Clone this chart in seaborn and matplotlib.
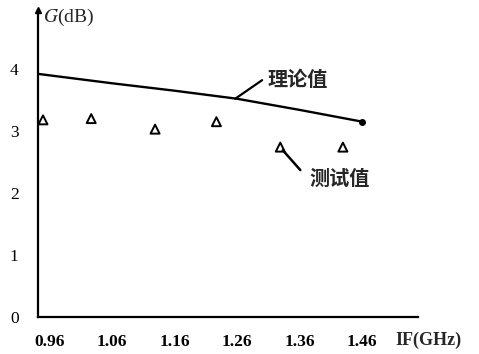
import matplotlib
matplotlib.use("Agg")
import matplotlib.pyplot as plt
import seaborn as sns
import pandas as pd

# theory curve
theory_x = [0.943, 1.06, 1.16, 1.26, 1.36, 1.46]
theory_g = [3.92, 3.77, 3.65, 3.52, 3.34, 3.15]

# measured points
test_x = [0.950, 1.027, 1.129, 1.227, 1.329, 1.429]
test_g = [3.18, 3.20, 3.03, 3.15, 2.74, 2.74]

x_ticks = [0.96, 1.06, 1.16, 1.26, 1.36, 1.46]
x_labels = ["0.96", "1.06", "1.16", "1.26", "1.36", "1.46"]
y_ticks = [0, 1, 2, 3, 4]

df_theory = pd.DataFrame({"IF": theory_x, "G": theory_g})
df_test = pd.DataFrame({"IF": test_x, "G": test_g})

sns.set_theme(style="white")
plt.rcParams["font.family"] = ["Liberation Serif", "DejaVu Serif"]
plt.rcParams["mathtext.fontset"] = "stix"
cjk = ["Noto Sans CJK SC", "DejaVu Sans"]

fig = plt.figure(figsize=(4.79, 3.54), dpi=100)
ax = fig.add_axes([0.0793, 0.1045, 0.7934, 0.867])

sns.lineplot(data=df_theory, x="IF", y="G", ax=ax, color="black", linewidth=1.7)
ax.plot(theory_x[-1], theory_g[-1], "o", color="black", markersize=4)
sns.scatterplot(data=df_test, x="IF", y="G", ax=ax, marker="^", s=42,
                facecolor="none", edgecolor="black", linewidth=1.4)

ax.set_xlim(0.942, 1.549)
ax.set_ylim(0, 4.95)
ax.set_xticks(x_ticks)
ax.set_xticklabels(x_labels)
ax.set_yticks(y_ticks)
ax.tick_params(axis="both", length=0, labelsize=12.5, colors="black")
ax.tick_params(axis="x", pad=12)
ax.tick_params(axis="y", pad=14)
for lab in ax.get_xticklabels():
    lab.set_fontweight("bold")
ax.set_xlabel("")
ax.set_ylabel("")

for side in ["top", "right"]:
    ax.spines[side].set_visible(False)
for side in ["left", "bottom"]:
    ax.spines[side].set_color("black")
    ax.spines[side].set_linewidth(1.6)

# arrow at top of y axis
ax.plot(0, 1, marker="^", color="black", markersize=5, transform=ax.transAxes, clip_on=False)

# axis titles
ax.text(0.012, 0.975, "$G$(dB)", transform=ax.transAxes, ha="left", va="center", fontsize=14)
ax.text(1.565, -0.075, "IF(GHz)", transform=ax.get_xaxis_transform(), ha="center", va="center",
        fontsize=13, fontweight="bold")

# labels with leader lines
ax.plot([1.257, 1.300], [3.52, 3.82], color="black", linewidth=1.6)
ax.text(1.357, 3.83, "理论值", fontsize=14.5, fontweight="bold", family=cjk,
        ha="center", va="center")
ax.plot([1.333, 1.361], [2.69, 2.37], color="black", linewidth=1.8)
ax.text(1.424, 2.24, "测试值", fontsize=14.5, fontweight="bold", family=cjk,
        ha="center", va="center")

fig.savefig("out.png", dpi=100)
